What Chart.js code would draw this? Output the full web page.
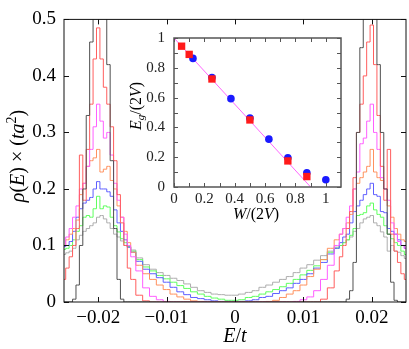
<!DOCTYPE html>
<html>
<head>
<meta charset="utf-8">
<script src="https://cdn.jsdelivr.net/npm/chart.js@4.4.1/dist/chart.umd.min.js"></script>
<style>
  body { margin: 0; background: #fff; }
  #wrap { position: relative; width: 409px; height: 349px; }
  #main { position: absolute; left: 0; top: 0; }
  #inset { position: absolute; left: 120px; top: 20px; }
</style>
</head>
<body>
<div id="wrap">
  <canvas id="main" width="409" height="349"></canvas>
  <canvas id="inset" width="230" height="215"></canvas>
</div>
<script>
// energy grid (bin centres), fine near the peaks
const energy = [
  -0.025, -0.0245, -0.024, -0.0235, -0.023, -0.0225, -0.022, -0.0215, -0.021, -0.0205,
  -0.02, -0.0195, -0.019, -0.0185, -0.018, -0.0175, -0.017, -0.0165, -0.016, -0.0155, -0.015,
  -0.014, -0.013, -0.012, -0.011, -0.01, -0.009, -0.008, -0.007, -0.006, -0.005, -0.004, -0.003, -0.002, -0.001,
  0,
  0.001, 0.002, 0.003, 0.004, 0.005, 0.006, 0.007, 0.008, 0.009, 0.01, 0.011, 0.012, 0.013, 0.014,
  0.015, 0.0155, 0.016, 0.0165, 0.017, 0.0175, 0.018, 0.0185, 0.019, 0.0195, 0.02,
  0.0205, 0.021, 0.0215, 0.022, 0.0225, 0.023, 0.0235, 0.024, 0.0245, 0.025
];

const rhoBlack = [
  0, 0, 0, 0.005, 0.03, 0.1, 0.2, 0.33, 0.46, 0.56, 0.6, 0.6, 0.56, 0.42, 0.25, 0.13, 0.04, 0.005, 0, 0, 0,
  0, 0, 0, 0, 0, 0, 0, 0, 0, 0, 0, 0, 0, 0,
  0,
  0, 0, 0, 0, 0, 0, 0, 0, 0, 0, 0, 0, 0, 0,
  0, 0, 0, 0.005, 0.02, 0.07, 0.3, 0.45, 0.58, 0.62, 0.62, 0.58, 0.42, 0.3, 0.2, 0.12, 0.035, 0.003, 0, 0, 0
];
const rhoRed = [
  0.04, 0.06, 0.08, 0.1, 0.13, 0.26, 0.18, 0.27, 0.35, 0.43, 0.485, 0.43, 0.38, 0.35, 0.31, 0.25, 0.19, 0.14, 0.1, 0.06, 0.04,
  0.012, 0.002, 0, 0, 0, 0, 0, 0, 0, 0, 0, 0, 0, 0,
  0,
  0, 0, 0, 0, 0, 0, 0, 0, 0, 0, 0, 0, 0.005, 0.025,
  0.055, 0.08, 0.1, 0.13, 0.16, 0.22, 0.3, 0.35, 0.4, 0.46, 0.49, 0.42, 0.33, 0.24, 0.18, 0.27, 0.12, 0.09, 0.07, 0.05, 0.04
];
const rhoMagenta = [
  0.1, 0.115, 0.13, 0.15, 0.17, 0.2, 0.21, 0.24, 0.27, 0.31, 0.35, 0.32, 0.29, 0.3, 0.26, 0.21, 0.18, 0.15, 0.12, 0.1, 0.08,
  0.055, 0.025, 0.01, 0.004, 0.001, 0, 0, 0, 0, 0, 0, 0, 0, 0,
  0,
  0, 0, 0, 0, 0, 0, 0, 0, 0.001, 0.004, 0.009, 0.02, 0.04, 0.065,
  0.1, 0.12, 0.13, 0.15, 0.17, 0.2, 0.23, 0.28, 0.29, 0.32, 0.35, 0.3, 0.27, 0.22, 0.2, 0.18, 0.14, 0.12, 0.107, 0.1, 0.095
];
const rhoOrange = [
  0.1, 0.11, 0.12, 0.13, 0.145, 0.19, 0.21, 0.24, 0.25, 0.255, 0.27, 0.23, 0.235, 0.24, 0.215, 0.2, 0.17, 0.15, 0.125, 0.105, 0.088,
  0.065, 0.05, 0.04, 0.03, 0.022, 0.014, 0.009, 0.005, 0.002, 0.001, 0, 0, 0, 0,
  0,
  0, 0, 0, 0, 0.001, 0.003, 0.008, 0.014, 0.02, 0.03, 0.045, 0.058, 0.075, 0.095,
  0.11, 0.12, 0.13, 0.14, 0.155, 0.2, 0.21, 0.22, 0.23, 0.24, 0.27, 0.23, 0.22, 0.215, 0.2, 0.17, 0.15, 0.13, 0.12, 0.11, 0.107
];
const rhoBlue = [
  0.098, 0.1, 0.107, 0.125, 0.15, 0.165, 0.175, 0.18, 0.185, 0.2, 0.213, 0.2, 0.2, 0.195, 0.187, 0.163, 0.14, 0.125, 0.11, 0.097, 0.088,
  0.072, 0.058, 0.05, 0.043, 0.035, 0.026, 0.018, 0.013, 0.008, 0.006, 0.004, 0.002, 0.001, 0.001,
  0.001,
  0.001, 0.002, 0.004, 0.008, 0.01, 0.015, 0.02, 0.025, 0.033, 0.04, 0.05, 0.06, 0.07, 0.085,
  0.095, 0.105, 0.115, 0.12, 0.14, 0.16, 0.17, 0.18, 0.19, 0.2, 0.21, 0.19, 0.187, 0.16, 0.158, 0.13, 0.125, 0.12, 0.11, 0.1, 0.095
];
const rhoGreen = [
  0.093, 0.095, 0.1, 0.11, 0.125, 0.135, 0.15, 0.153, 0.15, 0.165, 0.187, 0.165, 0.17, 0.168, 0.15, 0.135, 0.124, 0.112, 0.105, 0.098, 0.09,
  0.075, 0.062, 0.055, 0.047, 0.041, 0.035, 0.029, 0.024, 0.018, 0.014, 0.01, 0.007, 0.005, 0.003,
  0.003,
  0.004, 0.008, 0.01, 0.014, 0.018, 0.022, 0.027, 0.033, 0.04, 0.048, 0.056, 0.064, 0.075, 0.088,
  0.095, 0.1, 0.105, 0.11, 0.118, 0.13, 0.153, 0.155, 0.158, 0.17, 0.175, 0.163, 0.155, 0.15, 0.135, 0.12, 0.112, 0.105, 0.1, 0.09, 0.084
];
const rhoGray = [
  0.084, 0.087, 0.09, 0.095, 0.11, 0.118, 0.125, 0.13, 0.135, 0.14, 0.15, 0.153, 0.147, 0.14, 0.13, 0.12, 0.115, 0.108, 0.1, 0.097, 0.092,
  0.078, 0.066, 0.058, 0.052, 0.047, 0.042, 0.038, 0.032, 0.026, 0.02, 0.017, 0.014, 0.013, 0.012,
  0.012,
  0.014, 0.017, 0.02, 0.026, 0.03, 0.035, 0.04, 0.045, 0.052, 0.06, 0.066, 0.074, 0.082, 0.09,
  0.097, 0.1, 0.105, 0.11, 0.115, 0.125, 0.13, 0.14, 0.147, 0.15, 0.153, 0.14, 0.135, 0.124, 0.115, 0.09, 0.1, 0.09, 0.088, 0.082, 0.077
];

const xTicks = [-0.02, -0.01, 0, 0.01, 0.02];
const xTickLabels = ['\u22120.02', '\u22120.01', '0', '0.01', '0.02'];
const yTicks = [0, 0.1, 0.2, 0.3, 0.4, 0.5];
const yTickLabels = ['0', '0.1', '0.2', '0.3', '0.4', '0.5'];

// inset: gap vs disorder
const wSquares = [0.05, 0.1, 0.25, 0.5, 0.75, 0.875];
const egSquares = [0.945, 0.89, 0.725, 0.45, 0.175, 0.07];
const wCircles = [0.125, 0.25, 0.375, 0.5, 0.625, 0.75, 0.875, 1.0];
const egCircles = [0.863, 0.735, 0.593, 0.462, 0.321, 0.196, 0.095, 0.049];
const wFit = [0, 0.9];
const egFit = [1, 0];
const insetTicks = [0, 0.2, 0.4, 0.6, 0.8, 1];
const insetTickLabels = ['0', '0.2', '0.4', '0.6', '0.8', '1'];
const insetMinor = [0, 0.1, 0.2, 0.3, 0.4, 0.5, 0.6, 0.7, 0.8, 0.9, 1.0];

const serif = "'Liberation Serif', 'DejaVu Serif', serif";
const series = [rhoBlack, rhoRed, rhoMagenta, rhoOrange, rhoBlue, rhoGreen, rhoGray];
const colors = ['#505050', '#ff5e5e', '#ff5eff', '#ff915e', '#5e5eff', '#5eff5e', '#adadad'];

// text with italic / superscript / subscript parts
function drawRich(ctx, parts, x, y, size, rotate) {
  const fontFor = p => {
    const small = p[1] === 'sup' || p[1] === 'sub' || p[1] === 'subi';
    const it = p[1] === 'i' || p[1] === 'subi';
    return (it ? 'italic ' : '') + Math.round(small ? size * 0.7 : size) + 'px ' + serif;
  };
  let total = 0;
  parts.forEach(p => { ctx.font = fontFor(p); total += ctx.measureText(p[0]).width; });
  ctx.save();
  ctx.translate(x, y);
  if (rotate) ctx.rotate(-Math.PI / 2);
  ctx.fillStyle = '#000';
  ctx.textBaseline = 'middle';
  ctx.textAlign = 'left';
  let cx = -total / 2;
  parts.forEach(p => {
    ctx.font = fontFor(p);
    let dy = 0;
    if (p[1] === 'sup') dy = -size * 0.35;
    if (p[1] === 'sub' || p[1] === 'subi') dy = size * 0.25;
    ctx.fillText(p[0], cx, dy);
    cx += ctx.measureText(p[0]).width;
  });
  ctx.restore();
}

// box frame, inward ticks and axis titles
const framePlugin = {
  id: 'frame',
  beforeDatasetsDraw(chart, args, opts) {
    const { ctx, chartArea: a } = chart;
    ctx.save();
    ctx.fillStyle = '#fff';
    ctx.fillRect(a.left, a.top, a.right - a.left, a.bottom - a.top);
    ctx.restore();
  },
  afterDraw(chart, args, opts) {
    const { ctx, chartArea: a, scales } = chart;
    ctx.save();
    ctx.strokeStyle = opts.color;
    ctx.lineWidth = opts.tickWidth;
    ctx.beginPath();
    opts.xMarks.forEach(v => {
      const p = Math.round(scales.x.getPixelForValue(v)) + 0.5;
      ctx.moveTo(p, a.bottom); ctx.lineTo(p, a.bottom - opts.len);
      ctx.moveTo(p, a.top); ctx.lineTo(p, a.top + opts.len);
    });
    opts.yMarks.forEach(v => {
      const p = Math.round(scales.y.getPixelForValue(v)) + 0.5;
      ctx.moveTo(a.left, p); ctx.lineTo(a.left + opts.len, p);
      ctx.moveTo(a.right, p); ctx.lineTo(a.right - opts.len, p);
    });
    ctx.stroke();
    ctx.lineWidth = opts.width;
    ctx.strokeRect(a.left, a.top, a.right - a.left, a.bottom - a.top);
    ctx.restore();
    opts.titles.forEach(t => drawRich(ctx, t.parts, t.x, t.y, t.size, t.rotate));
  }
};

new Chart(document.getElementById('main'), {
  type: 'line',
  data: {
    datasets: series.map((s, i) => ({
      data: energy.map((e, k) => ({ x: e, y: s[k] })),
      borderColor: colors[i],
      borderWidth: 1,
      pointRadius: 0,
      stepped: 'middle',
      fill: false,
      clip: 0
    }))
  },
  options: {
    responsive: false,
    animation: false,
    devicePixelRatio: 1,
    layout: { padding: { top: 11, right: 3, left: 0, bottom: 0 } },
    plugins: {
      legend: { display: false },
      tooltip: { enabled: false },
      frame: {
        color: '#111', width: 1, tickWidth: 1, len: 5,
        xMarks: xTicks, yMarks: yTicks,
        titles: [
          { parts: [['E', 'i'], ['/', 'r'], ['t', 'i']], x: 235, y: 337, size: 20 },
          { parts: [['\u03c1', 'i'], ['(', 'r'], ['E', 'i'], [')', 'r'], [' \u00d7 ', 'r'], ['(', 'r'], ['ta', 'i'], ['2', 'sup'], [')', 'r']],
            x: 19, y: 156, size: 20, rotate: true }
        ]
      }
    },
    scales: {
      x: {
        type: 'linear', min: -0.025, max: 0.025,
        afterBuildTicks: s => { s.ticks = xTicks.map(v => ({ value: v })); },
        afterFit: s => { s.height = 47; },
        ticks: { callback: (v, i) => xTickLabels[i], color: '#000', font: { family: serif, size: 19 }, padding: 5, maxRotation: 0, autoSkip: false },
        grid: { display: false, drawTicks: false },
        border: { display: false }
      },
      y: {
        type: 'linear', min: 0, max: 0.5,
        afterBuildTicks: s => { s.ticks = yTicks.map(v => ({ value: v })); },
        afterFit: s => { s.width = 64; },
        ticks: { callback: (v, i) => yTickLabels[i], color: '#000', font: { family: serif, size: 19 }, padding: 8, autoSkip: false },
        grid: { display: false, drawTicks: false },
        border: { display: false }
      }
    }
  },
  plugins: [framePlugin]
});

new Chart(document.getElementById('inset'), {
  type: 'scatter',
  data: {
    datasets: [
      { data: wSquares.map((w, k) => ({ x: w, y: egSquares[k] })), pointStyle: 'rect', pointRadius: 5.2,
        backgroundColor: '#ff1a1a', borderColor: '#ff1a1a', borderWidth: 0, order: 0 },
      { data: wCircles.map((w, k) => ({ x: w, y: egCircles[k] })), pointStyle: 'circle', pointRadius: 3.8,
        backgroundColor: '#1a1aff', borderColor: '#1a1aff', borderWidth: 0, order: 1 },
      { data: wFit.map((w, k) => ({ x: w, y: egFit[k] })), showLine: true, pointRadius: 0,
        borderColor: '#ff66ff', borderWidth: 1, order: 2, clip: 0 }
    ]
  },
  options: {
    responsive: false,
    animation: false,
    devicePixelRatio: 1,
    layout: { padding: { top: 9, right: 9, left: 0, bottom: 0 } },
    plugins: {
      legend: { display: false },
      tooltip: { enabled: false },
      frame: {
        color: '#555', width: 1.5, tickWidth: 1, len: 4,
        xMarks: insetMinor, yMarks: insetMinor,
        titles: [
          { parts: [['W', 'i'], ['/(2', 'r'], ['V', 'i'], [')', 'r']], x: 136, y: 195, size: 16 },
          { parts: [['E', 'i'], ['g', 'subi'], ['/(2', 'r'], ['V', 'i'], [')', 'r']], x: 17, y: 86, size: 16, rotate: true }
        ]
      }
    },
    scales: {
      x: {
        type: 'linear', min: 0, max: 1.1,
        afterBuildTicks: s => { s.ticks = insetTicks.map(v => ({ value: v })); },
        afterFit: s => { s.height = 48; },
        ticks: { callback: (v, i) => insetTickLabels[i], color: '#222', font: { family: serif, size: 15 }, padding: 3, maxRotation: 0, autoSkip: false },
        grid: { display: false, drawTicks: false },
        border: { display: false }
      },
      y: {
        type: 'linear', min: 0, max: 1,
        afterBuildTicks: s => { s.ticks = insetTicks.map(v => ({ value: v })); },
        afterFit: s => { s.width = 54; },
        ticks: { callback: (v, i) => insetTickLabels[i], color: '#222', font: { family: serif, size: 15 }, padding: 9, autoSkip: false },
        grid: { display: false, drawTicks: false },
        border: { display: false }
      }
    }
  },
  plugins: [framePlugin]
});
</script>
</body>
</html>
